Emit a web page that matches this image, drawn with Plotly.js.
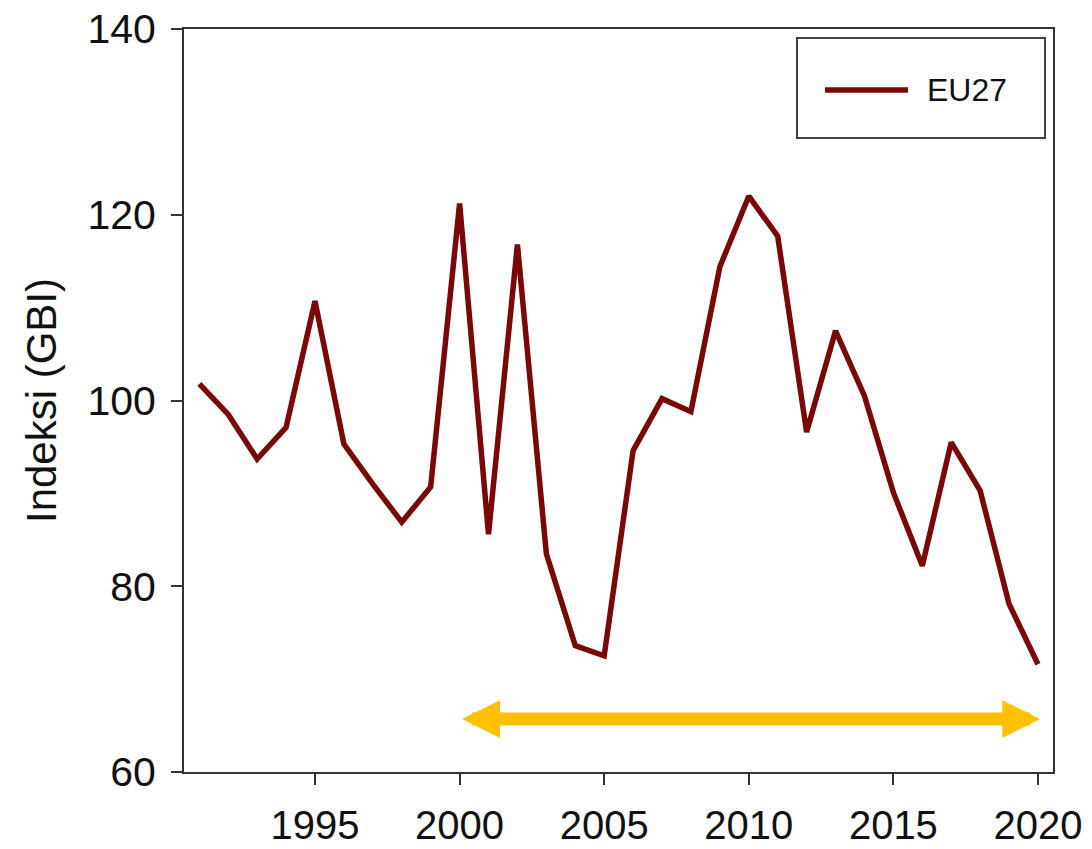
<!DOCTYPE html>
<html>
<head>
<meta charset="utf-8">
<script src="https://cdn.plot.ly/plotly-3.0.1.min.js"></script>
<style>html,body{margin:0;padding:0;background:#fff;}#chart{width:1092px;height:849px;}</style>
</head>
<body>
<div id="chart"></div>
<script>
const years = [1991,1992,1993,1994,1995,1996,1997,1998,1999,2000,2001,2002,2003,2004,2005,2006,2007,2008,2009,2010,2011,2012,2013,2014,2015,2016,2017,2018,2019,2020];
const eu27 = [101.8,98.5,93.7,97.1,110.7,95.3,91.0,86.9,90.7,121.2,85.6,116.8,83.5,73.6,72.5,94.6,100.2,98.8,114.4,122.0,117.7,96.6,107.5,100.5,90.1,82.2,95.5,90.3,78.1,71.6];
const seriesName = "EU27";
const yTicks = [60,80,100,120,140];
const xTicks = [1995,2000,2005,2010,2015,2020];
const arrowStartYear = 2000.04;
const arrowEndYear = 2020.07;
const arrowLevel = 65.7;
const lineColor = '#7A0808';

const trace = {
  x: years, y: eu27, type: 'scatter', mode: 'lines', name: seriesName,
  line: {color: lineColor, width: 5.5}, showlegend: false
};

const layout = {
  width: 1092, height: 849,
  margin: {l: 184, r: 39, t: 29, b: 77},
  paper_bgcolor: '#fff', plot_bgcolor: '#fff',
  font: {family: 'Liberation Sans, Arial, sans-serif', color: '#111'},
  showlegend: false,
  xaxis: {
    range: [1990.47, 2020.52], tickvals: xTicks, ticktext: xTicks.map(String),
    showgrid: false, zeroline: false, showline: true, mirror: true,
    linecolor: '#333', linewidth: 2, ticks: 'outside', ticklen: 11, tickwidth: 2, tickcolor: '#333',
    tickfont: {size: 40, color: '#111'}, ticklabelstandoff: 6
  },
  yaxis: {
    range: [60, 140], tickvals: yTicks, ticktext: yTicks.map(String),
    showgrid: false, zeroline: false, showline: true, mirror: true,
    linecolor: '#333', linewidth: 2, ticks: 'outside', ticklen: 11, tickwidth: 2, tickcolor: '#333',
    tickfont: {size: 41, color: '#111'}, ticklabelstandoff: 7,
    title: {text: 'Indeksi (GBI)', font: {size: 42, color: '#111'}, standoff: 18}
  },
  shapes: [
    {
      type: 'rect', xref: 'paper', yref: 'paper',
      x0: 0.7054, x1: 0.9908, y0: 0.8533, y1: 0.9879,
      line: {color: '#444', width: 2}, fillcolor: 'rgba(0,0,0,0)'
    },
    {
      type: 'line', xref: 'paper', yref: 'paper',
      x0: 0.7376, x1: 0.8331, y0: 0.918, y1: 0.918,
      line: {color: lineColor, width: 5.5}
    }
  ],
  annotations: [
    {
      x: arrowEndYear, y: arrowLevel, ax: arrowStartYear, ay: arrowLevel,
      xref: 'x', yref: 'y', axref: 'x', ayref: 'y',
      text: '', showarrow: true, arrowside: 'end+start',
      arrowhead: 2, arrowwidth: 13, arrowsize: 0.58, arrowcolor: '#FFC000'
    },
    {
      x: 0.853, y: 0.918, xref: 'paper', yref: 'paper', xanchor: 'left', yanchor: 'middle',
      text: seriesName, showarrow: false, font: {size: 32, color: '#111'}
    }
  ]
};

Plotly.newPlot('chart', [trace], layout, {displayModeBar: false, staticPlot: true});
</script>
</body>
</html>
